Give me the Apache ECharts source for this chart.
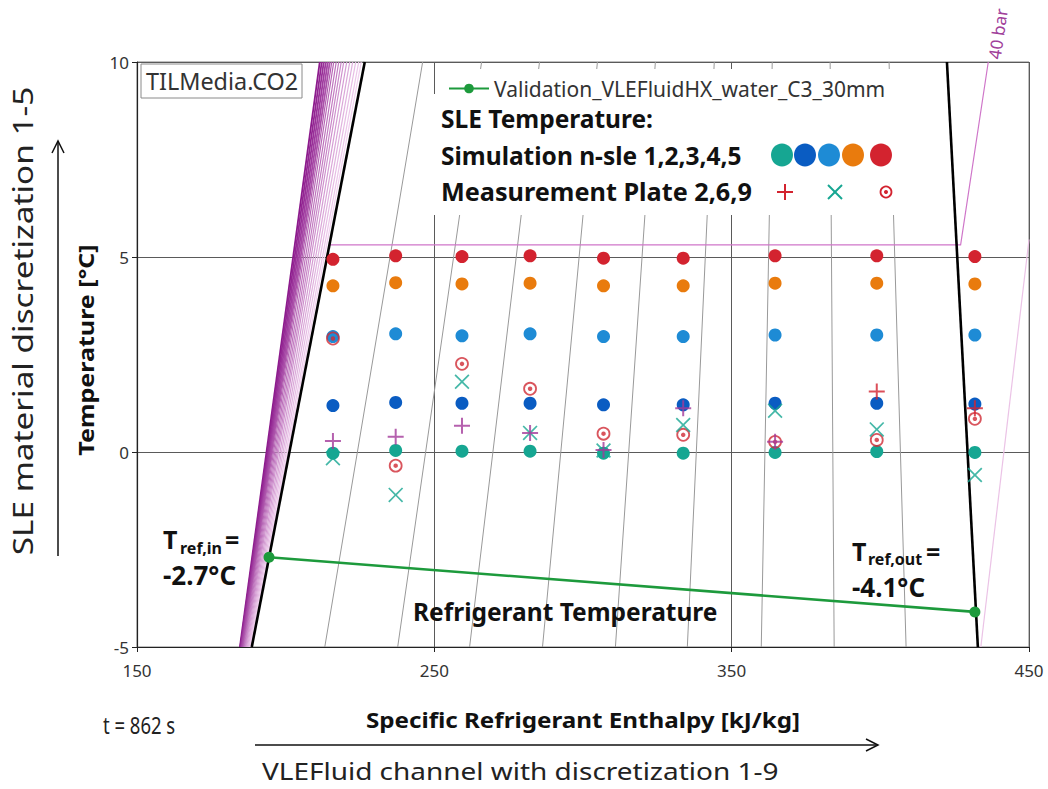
<!DOCTYPE html>
<html>
<head>
<meta charset="utf-8">
<title>SLE temperature in VLEFluid HX</title>
<script src="https://cdn.jsdelivr.net/npm/echarts@6/dist/echarts.min.js"></script>
<style>
  html, body { margin: 0; padding: 0; background: #fff; }
  #chart { width: 1048px; height: 789px; }
</style>
</head>
<body>
<div id="chart"></div>
<script>
// ---- data -------------------------------------------------------------
// Specific enthalpy of the nine VLEFluid channel cells [kJ/kg]
const cellEnthalpy = [215.9, 237.0, 259.3, 282.2, 306.9, 333.7, 364.6, 398.8, 431.8];

// Simulated SLE temperature for material layers n-sle 1..5 [°C]
const sle1 = [-0.03, 0.04, 0.02, 0.02, -0.03, -0.03, -0.01, 0.01, -0.01];
const sle2 = [1.19, 1.27, 1.25, 1.25, 1.21, 1.21, 1.25, 1.25, 1.23];
const sle3 = [2.96, 3.03, 2.98, 3.03, 2.96, 2.96, 3.00, 3.00, 3.00];
const sle4 = [4.26, 4.34, 4.31, 4.33, 4.26, 4.26, 4.33, 4.33, 4.31];
const sle5 = [4.94, 5.03, 5.01, 5.03, 4.97, 4.97, 5.03, 5.03, 5.01];

// Measured plate temperatures [°C]
const plate2 = [0.28, 0.39, 0.67, 0.49, 0.05, 1.12, 0.26, 1.55, 1.12];
const plate6 = [-0.16, -1.10, 1.80, 0.49, 0.04, 0.69, 1.06, 0.58, -0.59];
const plate9 = [2.91, -0.35, 2.26, 1.62, 0.47, 0.44, 0.26, 0.31, 0.85];

// Refrigerant inlet / outlet state
const refEnthalpy = [194.4, 431.8];
const refTemperature = [-2.7, -4.1];

// CO2 saturation lines (h [kJ/kg], T [°C])
const bubbleLine = [[188.6, -5], [226.6, 10]];
const dewLine = [[432.8, -5], [422.4, 10]];

// Lines of constant vapour quality 0.1 .. 0.9: enthalpy at -5 °C and at 10 °C
const qualityAtBottom = [213.15, 237.67, 261.86, 286.38, 310.90, 335.09, 359.95, 384.47, 408.66];
const qualityAtTop = [246.07, 265.89, 285.37, 304.85, 324.34, 344.15, 363.64, 383.12, 402.94];

// Liquid isobars (high pressure on the left): enthalpy at -5 °C and at 10 °C
const liquidIsobarBottom = [184.60, 184.77, 184.93, 185.10, 185.27, 185.44, 185.61, 185.81, 186.01,
                            186.21, 186.41, 186.61, 186.88, 187.15, 187.42, 187.69, 187.96, 188.23];
const liquidIsobarTop = [211.47, 212.14, 212.81, 213.49, 214.16, 214.83, 215.50, 216.17, 217.01,
                         217.85, 218.69, 219.53, 220.54, 221.55, 222.55, 223.56, 224.57, 225.41];

// 40 bar isobar through the two-phase region and into the superheated gas
const isobar40 = [[214.7, 5.31], [427.0, 5.31], [436.3, 10]];
// lower isobar in the superheated gas region
const isobarLow = [[433.8, -5], [450.0, 5.45]];

// Axis ticks
const xTicks = [150, 250, 350, 450];
const yTicks = [-5, 0, 5, 10];

// ---- styling helpers ----------------------------------------------------
const FONT = '"Noto Sans", "Open Sans", "DejaVu Sans", sans-serif';
const C = {
  teal: '#16A692', darkBlue: '#0A5CC2', lightBlue: '#1E8BD5', orange: '#E97B0D', red: '#D3232F',
  green: '#1D9A3C', magenta: '#A3399A', grid: '#5a5a5a', quality: '#999999'
};

function hex(c) { return [1, 3, 5].map(i => parseInt(c.substr(i, 2), 16)); }
function mixColor(a, b, t) {
  const A = hex(a), B = hex(b);
  return 'rgb(' + A.map((v, i) => Math.round(v + (B[i] - v) * t)).join(',') + ')';
}

const pair = (xs, ys) => xs.map((x, i) => [x, ys[i]]);

const fanLines = liquidIsobarBottom.map((hb, i) => ({
  coords: [[hb, -5], [liquidIsobarTop[i], 10]],
  lineStyle: {
    color: mixColor('#8C1A8C', '#F2D2F0', i / (liquidIsobarBottom.length - 1)),
    width: i < 6 ? 1.8 : 1.2
  }
}));

const qualityLines = qualityAtBottom.map((hb, i) => ({
  coords: [[hb, -5], [qualityAtTop[i], 10]]
}));

const PLUS = 'path://M7,0 H9 V7 H16 V9 H9 V16 H7 V9 H0 V7 H7 Z';
const CROSS = 'path://M0,1.3 L1.3,0 L8,6.7 L14.7,0 L16,1.3 L9.3,8 L16,14.7 L14.7,16 L8,9.3 L1.3,16 L0,14.7 L6.7,8 Z';

function dotSeries(name, values, color) {
  return {
    name, type: 'scatter', data: pair(cellEnthalpy, values), symbol: 'circle', symbolSize: 13,
    itemStyle: { color, opacity: 1 }, z: 5, silent: true
  };
}

const refName = 'Validation_VLEFluidHX_water_C3_30mm';

const txt = (x, y, text, size, opts = {}) => ({
  type: 'text', x, y, z: 20, rotation: opts.rotation || 0, scaleX: opts.scaleX || 1, silent: true,
  style: {
    text, fontSize: size, fontFamily: FONT, fontWeight: opts.bold ? 'bold' : 'normal',
    fill: opts.color || '#111',
    align: opts.align || 'left', textAlign: opts.align || 'left',
    verticalAlign: 'middle', textVerticalAlign: 'middle'
  }
});

const legendDots = [C.teal, C.darkBlue, C.lightBlue, C.orange, C.red];
const legendDotX = [782, 805, 829, 853, 881];

const graphics = [
  // white legend backgrounds
  { type: 'rect', z: 10, silent: true, shape: { x: 439, y: 69, width: 470, height: 26 }, style: { fill: '#fff' } },
  { type: 'rect', z: 10, silent: true, shape: { x: 430, y: 94, width: 479, height: 121 }, style: { fill: '#fff' } },
  // media box
  { type: 'rect', z: 10, silent: true, shape: { x: 141, y: 64, width: 161, height: 34 },
    style: { fill: '#fff', stroke: '#8a8a8a', lineWidth: 1 } },
  txt(146, 81, 'TILMedia.CO2', 23.4, { color: '#333' }),

  txt(441, 118, 'SLE Temperature:', 24.5, { bold: true }),
  txt(441, 155, 'Simulation n-sle 1,2,3,4,5', 24.5, { bold: true }),
  txt(441, 191, 'Measurement Plate 2,6,9', 24.5, { bold: true, scaleX: 1.03 }),

  ...legendDots.map((c, i) => ({
    type: 'ellipse', z: 20, silent: true, shape: { cx: legendDotX[i], cy: 155, rx: 11, ry: 11.5 }, style: { fill: c }
  })),
  // measurement legend symbols
  { type: 'line', z: 20, silent: true, shape: { x1: 777, y1: 192, x2: 793, y2: 192 }, style: { stroke: C.red, lineWidth: 2 } },
  { type: 'line', z: 20, silent: true, shape: { x1: 785, y1: 184, x2: 785, y2: 200 }, style: { stroke: C.red, lineWidth: 2 } },
  { type: 'line', z: 20, silent: true, shape: { x1: 828, y1: 185, x2: 842, y2: 199 }, style: { stroke: C.teal, lineWidth: 2 } },
  { type: 'line', z: 20, silent: true, shape: { x1: 842, y1: 185, x2: 828, y2: 199 }, style: { stroke: C.teal, lineWidth: 2 } },
  { type: 'circle', z: 20, silent: true, shape: { cx: 886, cy: 192, r: 5.5 }, style: { fill: 'none', stroke: C.red, lineWidth: 1.8 } },
  { type: 'circle', z: 20, silent: true, shape: { cx: 886, cy: 192, r: 2 }, style: { fill: C.red } },

  // isobar label
  txt(994, 59, '40 bar', 17, { color: '#A0409A', rotation: 1.42 }),

  // annotations inside the plot
  txt(163, 539, 'T', 25, { bold: true }),
  txt(180, 548, 'ref,in', 16, { bold: true }),
  txt(225, 539, '=', 25, { bold: true }),
  txt(163, 575, '-2.7°C', 26, { bold: true }),
  txt(852, 551, 'T', 25, { bold: true }),
  txt(868, 559, 'ref,out', 16, { bold: true }),
  txt(926, 551, '=', 25, { bold: true }),
  txt(852, 587, '-4.1°C', 26, { bold: true }),
  txt(413, 611, 'Refrigerant Temperature', 24.5, { bold: true }),

  // axis titles
  txt(86, 350, 'Temperature [°C]', 22, { bold: true, align: 'center', rotation: Math.PI / 2, scaleX: 1.14 }),
  txt(583, 719, 'Specific Refrigerant Enthalpy [kJ/kg]', 22, { bold: true, align: 'center', scaleX: 1.1 }),

  // discretisation notes with arrows
  txt(22, 321, 'SLE material discretization 1-5', 28, { align: 'center', rotation: Math.PI / 2, color: '#222', scaleX: 1.19 }),
  { type: 'line', z: 20, silent: true, shape: { x1: 58, y1: 556, x2: 58, y2: 141 }, style: { stroke: '#111', lineWidth: 1.5 } },
  { type: 'polyline', z: 20, silent: true, shape: { points: [[52, 153], [58, 141], [64, 153]] }, style: { stroke: '#111', lineWidth: 1.5, fill: 'none' } },
  txt(103, 724, 't = 862 s', 24, { color: '#222', scaleX: 0.77 }),
  { type: 'line', z: 20, silent: true, shape: { x1: 255, y1: 745, x2: 878, y2: 745 }, style: { stroke: '#111', lineWidth: 1.5 } },
  { type: 'polyline', z: 20, silent: true, shape: { points: [[866, 739], [878, 745], [866, 751]] }, style: { stroke: '#111', lineWidth: 1.5, fill: 'none' } },
  txt(262, 771, 'VLEFluid channel with discretization 1-9', 24, { color: '#222', scaleX: 1.165 })
];

const option = {
  animation: false,
  backgroundColor: '#fff',
  grid: { left: 137, right: 19, top: 62, bottom: 142, show: true, borderColor: '#808080', borderWidth: 1, backgroundColor: 'transparent' },
  xAxis: {
    type: 'value', min: xTicks[0], max: xTicks[xTicks.length - 1], interval: 100,
    axisLine: { show: true, onZero: false, lineStyle: { color: '#222', width: 1.2 } },
    axisTick: { show: true, length: 5, lineStyle: { color: '#222' } },
    axisLabel: { fontSize: 17, color: '#333', fontFamily: FONT, margin: 15 },
    splitLine: { show: true, lineStyle: { color: C.grid, width: 1 } }
  },
  yAxis: {
    type: 'value', min: yTicks[0], max: yTicks[yTicks.length - 1], interval: 5,
    axisLine: { show: true, onZero: false, lineStyle: { color: '#222', width: 1.2 } },
    axisTick: { show: true, length: 5, lineStyle: { color: '#222' } },
    axisLabel: { fontSize: 17, color: '#333', fontFamily: FONT, margin: 8 },
    splitLine: { show: true, lineStyle: { color: C.grid, width: 1 } }
  },
  legend: {
    data: [refName], left: 443, top: 73, itemWidth: 40, itemHeight: 12, itemGap: 6,
    selectedMode: false,
    textStyle: { fontSize: 21, fontFamily: FONT, color: '#333' }, z: 15
  },
  graphic: { elements: graphics },
  series: [
    { type: 'lines', coordinateSystem: 'cartesian2d', data: qualityLines, silent: true, z: 1,
      lineStyle: { color: C.quality, width: 1, opacity: 1 } },
    { type: 'lines', coordinateSystem: 'cartesian2d', data: fanLines, silent: true, z: 2,
      lineStyle: { opacity: 1 } },
    { type: 'lines', coordinateSystem: 'cartesian2d', polyline: true, silent: true, z: 2,
      data: [{ coords: isobar40 }], lineStyle: { color: '#CF76C9', width: 1.2, opacity: 1 } },
    { type: 'lines', coordinateSystem: 'cartesian2d', silent: true, z: 2,
      data: [{ coords: isobarLow }], lineStyle: { color: '#EBC3E6', width: 1.2, opacity: 1 } },
    { type: 'lines', coordinateSystem: 'cartesian2d', silent: true, z: 3,
      data: [{ coords: bubbleLine }, { coords: dewLine }], lineStyle: { color: '#000', width: 2.6, opacity: 1 } },

    { name: refName, type: 'line', data: pair(refEnthalpy, refTemperature), z: 4,
      symbol: 'circle', symbolSize: 11, showSymbol: true,
      lineStyle: { color: C.green, width: 2.6 }, itemStyle: { color: C.green } },

    dotSeries('n-sle 1', sle1, C.teal),
    dotSeries('n-sle 2', sle2, C.darkBlue),
    dotSeries('n-sle 3', sle3, C.lightBlue),
    dotSeries('n-sle 4', sle4, C.orange),
    dotSeries('n-sle 5', sle5, C.red),

    { name: 'Plate 9', type: 'scatter', data: pair(cellEnthalpy, plate9), symbol: 'circle', symbolSize: 12, z: 6, silent: true,
      itemStyle: { color: 'rgba(0,0,0,0)', borderColor: '#D02A35', borderWidth: 1.8 } },
    { name: 'Plate 9 centre', type: 'scatter', data: pair(cellEnthalpy, plate9), symbol: 'circle', symbolSize: 4.5, z: 6, silent: true,
      itemStyle: { color: '#D02A35' } },
    { name: 'Plate 6', type: 'scatter', data: pair(cellEnthalpy, plate6), symbol: CROSS, symbolSize: 15, z: 7, silent: true,
      itemStyle: { color: C.teal } },
    { name: 'Plate 2', type: 'scatter', data: pair(cellEnthalpy, plate2), symbol: PLUS, symbolSize: 16, z: 8, silent: true,
      itemStyle: { color: p => (p.dataIndex < 7 ? C.magenta : C.red) } }
  ]
};

const chart = echarts.init(document.getElementById('chart'), null, { renderer: 'svg', width: 1048, height: 789 });
chart.setOption(option);
</script>
</body>
</html>
